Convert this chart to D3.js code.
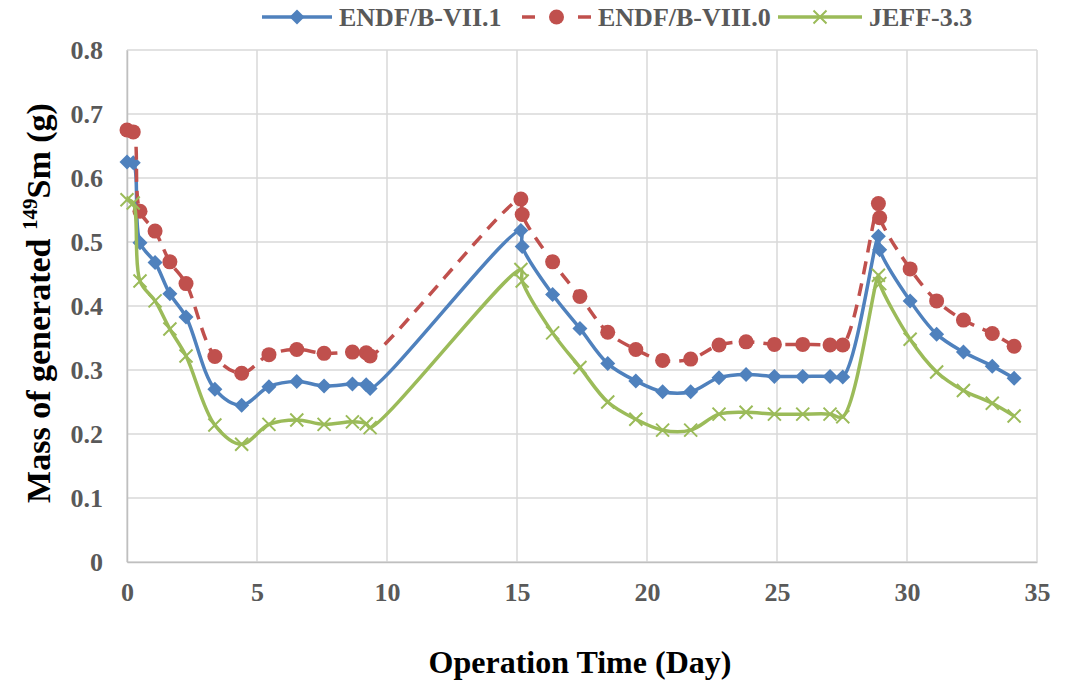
<!DOCTYPE html>
<html>
<head>
<meta charset="utf-8">
<script src="https://cdn.jsdelivr.net/npm/d3@7"></script>
<style>
  body { margin: 0; background: #fff; }
</style>
</head>
<body>
<div id="chart"></div>
<script>
// operation time (day)
const time = [0, 0.24, 0.5, 1.08, 1.65, 2.27, 3.38, 4.41, 5.46, 6.53, 7.58, 8.67, 9.2, 9.35,
  15.15, 15.2, 16.37, 17.42, 18.49, 19.57, 20.6, 21.68, 22.77, 23.81, 24.9, 25.99, 27.04, 27.53,
  28.9, 28.95, 30.12, 31.14, 32.17, 33.28, 34.12];

const endf71 = [0.625, 0.624, 0.499, 0.468, 0.419, 0.383, 0.270, 0.245, 0.274, 0.282, 0.275, 0.278, 0.277, 0.271,
  0.518, 0.493, 0.418, 0.365, 0.310, 0.283, 0.266, 0.266, 0.288, 0.293, 0.290, 0.290, 0.290, 0.289,
  0.509, 0.488, 0.408, 0.356, 0.328, 0.306, 0.287];

const endf80 = [0.675, 0.672, 0.548, 0.517, 0.469, 0.435, 0.321, 0.295, 0.324, 0.332, 0.326, 0.328, 0.327, 0.322,
  0.567, 0.543, 0.469, 0.415, 0.359, 0.332, 0.315, 0.317, 0.339, 0.344, 0.340, 0.340, 0.339, 0.339,
  0.560, 0.538, 0.458, 0.408, 0.378, 0.357, 0.337];

const jeff33 = [0.566, 0.561, 0.439, 0.408, 0.364, 0.322, 0.214, 0.184, 0.215, 0.222, 0.215, 0.219, 0.216, 0.210,
  0.457, 0.439, 0.358, 0.304, 0.250, 0.223, 0.206, 0.206, 0.231, 0.234, 0.231, 0.231, 0.231, 0.227,
  0.448, 0.435, 0.348, 0.297, 0.268, 0.248, 0.228];

const seriesNames = ['ENDF/B-VII.1', 'ENDF/B-VIII.0', 'JEFF-3.3'];
const xTicks = [0, 5, 10, 15, 20, 25, 30, 35];
const yTicks = [0, 0.1, 0.2, 0.3, 0.4, 0.5, 0.6, 0.7, 0.8];

const width = 1081;
const height = 681;
const margin = { top: 50, right: 44, bottom: 119, left: 127 };
const serif = '"Liberation Serif", "Times New Roman", serif';

const svg = d3.select('#chart').append('svg')
  .attr('width', width)
  .attr('height', height);

const x = d3.scaleLinear().domain([0, 35]).range([margin.left, width - margin.right]);
const y = d3.scaleLinear().domain([0, 0.8]).range([height - margin.bottom, margin.top]);

const gridColor = '#d9d9d9';
const tickColor = '#595959';

// gridlines
svg.append('g').selectAll('line.h')
  .data(yTicks)
  .enter().append('line')
  .attr('x1', x(0)).attr('x2', x(35))
  .attr('y1', d => y(d)).attr('y2', d => y(d))
  .attr('stroke', gridColor).attr('stroke-width', 1.5);

svg.append('g').selectAll('line.v')
  .data(xTicks)
  .enter().append('line')
  .attr('x1', d => x(d)).attr('x2', d => x(d))
  .attr('y1', y(0)).attr('y2', y(0.8))
  .attr('stroke', gridColor).attr('stroke-width', 1.5);

// axes
const xAxis = svg.append('g')
  .attr('transform', `translate(0,${y(0)})`)
  .call(d3.axisBottom(x).tickValues(xTicks).tickSize(0).tickPadding(21).tickFormat(d3.format('d')));
xAxis.attr('font-family', null).attr('font-size', null);
xAxis.select('.domain').attr('stroke', '#bfbfbf').attr('stroke-width', 1.5);
xAxis.selectAll('text')
  .style('font-family', serif).style('font-weight', 'bold').style('font-size', '26px')
  .attr('fill', tickColor);

const yAxis = svg.append('g')
  .attr('transform', `translate(${x(0)},0)`)
  .call(d3.axisLeft(y).tickValues(yTicks).tickSize(0).tickPadding(24)
    .tickFormat(d => (d === 0 ? '0' : d3.format('.1f')(d))));
yAxis.attr('font-family', null).attr('font-size', null);
yAxis.select('.domain').attr('stroke', '#bfbfbf').attr('stroke-width', 1.5);
yAxis.selectAll('text')
  .style('font-family', serif).style('font-weight', 'bold').style('font-size', '26px')
  .attr('fill', tickColor);

// axis titles
svg.append('text')
  .attr('x', 580).attr('y', 673)
  .attr('text-anchor', 'middle')
  .style('font-family', serif).style('font-weight', 'bold').style('font-size', '32px')
  .attr('fill', '#000')
  .text('Operation Time (Day)');

const yTitle = svg.append('text')
  .attr('transform', 'translate(50,303) rotate(-90)')
  .attr('text-anchor', 'middle')
  .style('font-family', serif).style('font-weight', 'bold').style('font-size', '34px')
  .attr('fill', '#000');
yTitle.append('tspan').text('Mass of generated ');
yTitle.append('tspan').style('font-size', '21px').attr('dy', -13).text('149');
yTitle.append('tspan').attr('dy', 13).text('Sm (g)');

// series
const series = [
  { name: seriesNames[0], values: endf71, color: '#4f81bd', dash: null, marker: 'diamond' },
  { name: seriesNames[1], values: endf80, color: '#c0504d', dash: '13,9', marker: 'circle' },
  { name: seriesNames[2], values: jeff33, color: '#9bbb59', dash: null, marker: 'cross' },
];

const line = d3.line()
  .x(d => x(d[0]))
  .y(d => y(d[1]))
  .curve(d3.curveCatmullRom.alpha(0.5));

const drawMarker = (g, type, color, cx, cy, s) => {
  if (type === 'diamond') {
    g.append('path')
      .attr('d', `M${cx},${cy - s}L${cx + s},${cy}L${cx},${cy + s}L${cx - s},${cy}Z`)
      .attr('fill', color);
  } else if (type === 'circle') {
    g.append('circle')
      .attr('cx', cx).attr('cy', cy).attr('r', s)
      .attr('fill', color);
  } else {
    g.append('path')
      .attr('d', `M${cx - s},${cy - s}L${cx + s},${cy + s}M${cx - s},${cy + s}L${cx + s},${cy - s}`)
      .attr('stroke', color).attr('stroke-width', 2).attr('fill', 'none');
  }
};

const markerSize = { diamond: 7.5, circle: 7.5, cross: 6.5 };

series.forEach((s) => {
  const pts = time.map((t, i) => [t, s.values[i]]);
  const g = svg.append('g').attr('class', 'series');
  g.append('path')
    .datum(pts)
    .attr('d', line)
    .attr('fill', 'none')
    .attr('stroke', s.color)
    .attr('stroke-width', 3.5)
    .attr('stroke-dasharray', s.dash);
  pts.forEach((p) => drawMarker(g, s.marker, s.color, x(p[0]), y(p[1]), markerSize[s.marker]));
});

// legend
const legendItems = [
  { x0: 262, x1: 332, tx: 339 },
  { x0: 522, x1: 591, tx: 598 },
  { x0: 778, x1: 862, tx: 869 },
];
const legendY = 17;
series.forEach((s, i) => {
  const li = legendItems[i];
  const g = svg.append('g').attr('class', 'legend');
  if (s.dash) {
    g.append('line').attr('x1', li.x0).attr('x2', li.x0 + 13).attr('y1', legendY).attr('y2', legendY)
      .attr('stroke', s.color).attr('stroke-width', 3.5);
    g.append('line').attr('x1', li.x1 - 13).attr('x2', li.x1).attr('y1', legendY).attr('y2', legendY)
      .attr('stroke', s.color).attr('stroke-width', 3.5);
  } else {
    g.append('line').attr('x1', li.x0).attr('x2', li.x1).attr('y1', legendY).attr('y2', legendY)
      .attr('stroke', s.color).attr('stroke-width', 3.5);
  }
  drawMarker(g, s.marker, s.color, (li.x0 + li.x1) / 2, legendY, markerSize[s.marker]);
  g.append('text')
    .attr('x', li.tx).attr('y', 26)
    .style('font-family', serif).style('font-weight', 'bold').style('font-size', '26px')
    .attr('fill', tickColor)
    .text(s.name);
});
</script>
</body>
</html>
